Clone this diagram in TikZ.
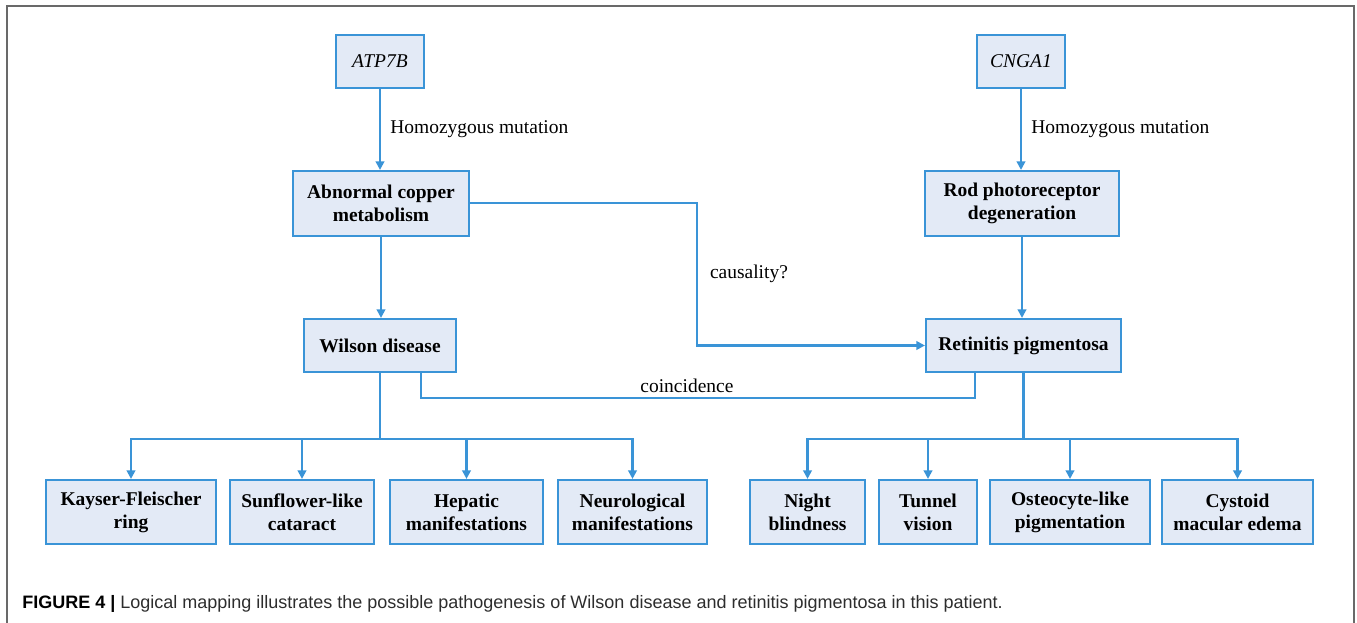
\documentclass[tikz,border=0pt]{standalone}
\usepackage{fontspec}
\setmainfont{Liberation Serif}
\setsansfont{Liberation Sans}
\usetikzlibrary{arrows.meta, calc}
\definecolor{flowblue}{RGB}{58,148,215}
\definecolor{boxfill}{RGB}{227,234,246}
\definecolor{framegrey}{RGB}{105,105,105}
\definecolor{captiongrey}{RGB}{45,45,45}
\tikzset {
    box/.style = {
        draw = flowblue, fill = boxfill, line width = 1.6pt,
        align = center, inner sep = 0pt, minimum height = 39.75pt,
        font = \fontsize{14.6}{17.3}\selectfont\bfseries
    },
    gene box/.style = {box, font = \fontsize{14.6}{17.3}\selectfont\itshape},
    tall box/.style = {box, minimum height = 48.75pt},
    sign box/.style = {box, minimum height = 48pt},
    link/.style = {draw = flowblue, line width = 1.6pt},
    arrowed/.style = {link, -{Triangle[length = 6.5pt, width = 6.5pt]}},
    plain label/.style = {font = \fontsize{14.6}{17.3}\selectfont, inner sep = 0pt},
}

\begin{document}
\begin{tikzpicture}[x = 0.75pt, y = -0.75pt]
    \useasboundingbox (0, 0) rectangle (1357, 623);
    \draw [framegrey, line width = 1.5pt] (7, 623) -- (7, 6.5) -- (1354, 6.5) -- (1354, 623);
    %
    \node (atp) [gene box, minimum width = 66pt] at (380, 61.5) {ATP7B};
    \node (cnga) [gene box, minimum width = 66pt] at (1021, 61.5) {CNGA1};
    \node (abn) [tall box, minimum width = 132pt] at (381, 203.5) {Abnormal copper\\metabolism};
    \node (rod) [tall box, minimum width = 145.5pt] at (1022, 203.5) {Rod photoreceptor\\degeneration};
    \node (wil) [box, minimum width = 114pt] at (380, 345.5) {Wilson disease};
    \node (ret) [box, minimum width = 146.25pt] at (1023.5, 345.5) {Retinitis pigmentosa};
    %
    \node (kf) [sign box, minimum width = 127.5pt] at (131, 512) {Kayser-Fleischer\\ring};
    \node (sun) [sign box, minimum width = 108pt] at (302, 512) {Sunflower-like\\cataract};
    \node (hep) [sign box, minimum width = 114.75pt] at (466.5, 512) {Hepatic\\manifestations};
    \node (neu) [sign box, minimum width = 111.75pt] at (632.5, 512) {Neurological\\manifestations};
    \node (night) [sign box, minimum width = 86.25pt] at (807.5, 512) {Night\\blindness};
    \node (tun) [sign box, minimum width = 73.5pt] at (928, 512) {Tunnel\\vision};
    \node (ost) [sign box, minimum width = 120pt] at (1070, 512) {Osteocyte-like\\pigmentation};
    \node (cme) [sign box, minimum width = 113.25pt] at (1237.5, 512) {Cystoid\\macular edema};
    %
    \draw [arrowed] (atp.south) -- node [plain label, right, xshift = 7pt] {Homozygous mutation} (atp.south |- abn.north);
    \draw [arrowed] (cnga.south) -- node [plain label, right, xshift = 7pt] {Homozygous mutation} (cnga.south |- rod.north);
    \draw [arrowed] (abn.south) -- (abn.south |- wil.north);
    \draw [arrowed] (rod.south) -- (rod.south |- ret.north);
    %
    \coordinate (bend) at (697, 203);
    \draw [arrowed] (abn.east |- bend) -- (bend) |- node [plain label, pos = 0.25, right, xshift = 9pt] {causality?} (ret.west);
    \draw [link] ($(wil.south east) + (-36, 0)$) -- ++(0, 25)
        -| node [plain label, pos = 0.24, above, yshift = 3pt] {coincidence} ($(ret.south west) + (50, 0)$);
    %
    \coordinate (wil bus) at ($(wil.south) + (0, 66)$);
    \coordinate (ret bus) at ($(ret.south) + (0, 66)$);
    \draw [link] (wil.south) -- (wil bus);
    \draw [link] (ret.south) -- (ret bus);
    \foreach \n in {kf, sun, hep, neu}
        \draw [arrowed] (wil bus) -| (\n.north);
    \foreach \n in {night, tun, ost, cme}
        \draw [arrowed] (ret bus) -| (\n.north);
    %
    \node (caption) [anchor = base west, inner sep = 0pt, text = captiongrey, font = \sffamily\fontsize{13.5}{15}\selectfont]
        at (22, 608) {\textbf{\color{black}FIGURE 4 |} Logical mapping illustrates the possible pathogenesis of Wilson disease and retinitis pigmentosa in this patient.};
\end{tikzpicture}
\end{document}
